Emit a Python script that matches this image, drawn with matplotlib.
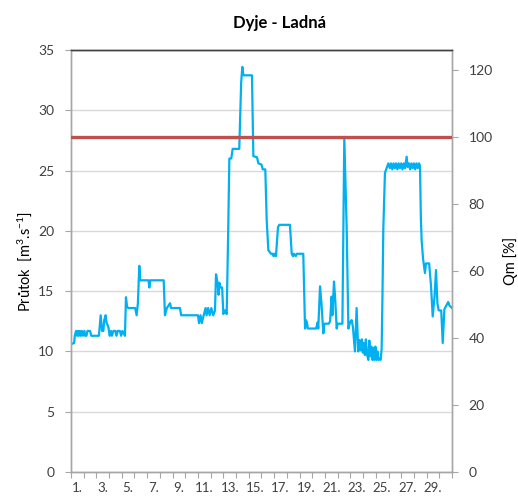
import matplotlib
matplotlib.use("Agg")
import matplotlib.pyplot as plt

plt.rcParams.update({
    "font.family": ["Lato", "DejaVu Sans"],
    "mathtext.default": "regular",
})

# data (day position 0..30, flow in m3/s)
day_pos = [
    0.00, 0.25, 0.30, 0.40, 0.48, 0.55, 0.62, 0.70, 0.78, 0.86, 0.95, 1.05, 1.12, 1.22,
    1.30, 1.50, 1.60, 2.20, 2.34, 2.45, 2.55, 2.62, 2.73, 2.80, 2.95, 3.05, 3.15, 3.22,
    3.35, 3.50, 3.58, 3.68, 3.85, 3.95, 4.05, 4.25, 4.33, 4.42, 4.51, 5.05, 5.17, 5.27,
    5.38, 5.46, 6.10, 6.17, 6.24, 7.30, 7.40, 7.55, 7.80, 7.88, 8.58, 8.68, 10.00, 10.08,
    10.20, 10.30, 10.45, 10.60, 10.68, 10.80, 10.92, 11.05, 11.20, 11.34, 11.42, 11.55,
    11.62, 11.68, 11.78, 11.90, 12.00, 12.13, 12.26, 12.38, 12.47, 12.62, 12.73, 13.25,
    13.40, 13.49, 13.58, 14.25, 14.36, 14.65, 14.75, 15.00, 15.10, 15.30, 15.41, 15.54,
    15.75, 15.90, 15.95, 16.05, 16.14, 16.30, 16.40, 17.24, 17.38, 17.48, 17.55, 17.70,
    17.78, 18.29, 18.43, 18.50, 18.58, 18.65, 19.30, 19.42, 19.47, 19.61, 19.72, 19.87,
    19.95, 20.30, 20.40, 20.52, 20.58, 20.71, 20.80, 20.92, 21.00, 21.37, 21.52, 21.71,
    21.84, 21.97, 22.10, 22.20, 22.36, 22.49, 22.62, 22.70, 22.82, 22.90, 22.98, 23.06,
    23.14, 23.22, 23.30, 23.41, 23.49, 23.57, 23.65, 23.73, 23.81, 23.89, 23.97, 24.05,
    24.13, 24.21, 24.30, 24.38, 24.46, 24.53, 24.59, 24.72, 24.85, 24.99, 25.10, 25.20,
    25.30, 25.40, 25.50, 25.60, 25.70, 25.80, 25.90, 26.00, 26.10, 26.20, 26.30, 26.43,
    26.50, 26.60, 26.70, 26.80, 26.90, 27.00, 27.10, 27.20, 27.30, 27.40, 27.48, 27.55,
    27.61, 27.72, 27.87, 27.95, 28.20, 28.35, 28.48, 28.62, 28.74, 28.85, 28.95, 29.15,
    29.27, 29.40, 29.58, 29.70, 29.80, 30.00,
]
flow = [
    10.6, 10.7, 11.3, 11.7, 11.3, 11.7, 11.3, 11.7, 11.3, 11.7, 11.3, 11.7, 11.3, 11.3,
    11.7, 11.7, 11.3, 11.3, 13.0, 11.7, 11.7, 12.6, 13.0, 12.4, 12.0, 11.3, 11.7, 11.3,
    11.7, 11.7, 11.3, 11.7, 11.7, 11.3, 11.7, 11.3, 14.5, 13.7, 13.6, 13.6, 13.0, 14.0,
    17.1, 15.9, 15.9, 15.3, 15.9, 15.9, 13.0, 13.6, 14.0, 13.6, 13.6, 13.0, 13.0, 12.35,
    13.0, 12.35, 13.0, 13.6, 13.0, 13.6, 13.0, 13.6, 13.0, 13.4, 16.4, 15.65,
    14.7, 15.7, 15.3, 15.3, 13.1, 13.4, 13.1, 20.0, 26.0, 26.0, 26.8, 26.8,
    32.3, 33.6, 32.9, 32.9, 26.2, 26.1, 25.6, 25.5, 25.1, 25.1, 20.9, 18.4,
    18.1, 18.1, 17.9, 18.1, 17.9, 20.3, 20.5, 20.5, 18.1, 17.9, 18.1, 17.9,
    18.1, 18.1, 11.9, 12.6, 12.4, 11.9, 11.9, 12.4, 11.9, 15.4, 14.0, 11.5,
    12.3, 12.3, 12.5, 14.55, 13.0, 15.8, 14.4, 11.9, 12.3, 12.3, 27.7, 20.1,
    11.9, 12.4, 12.6, 12.0, 10.0, 13.6, 10.0, 10.95, 10.1, 11.0, 9.9, 10.7,
    9.7, 11.0, 9.8, 9.3, 10.9, 9.6, 10.4, 9.3, 10.3, 9.3, 10.4, 9.3,
    10.0, 9.3, 9.4, 9.3, 10.2, 15.0, 20.1, 24.8, 25.2, 25.6, 25.2, 25.6,
    25.1, 25.6, 25.2, 25.6, 25.1, 25.6, 25.2, 25.6, 25.1, 25.6, 25.2, 26.15,
    25.3, 25.6, 25.1, 25.6, 25.2, 25.6, 25.1, 25.6, 25.2, 25.6, 25.4, 21.0,
    19.2, 17.7, 16.5, 17.3, 17.3, 15.4, 12.9, 14.5, 16.75, 14.0, 13.4, 13.4,
    10.7, 13.5, 13.85, 14.1, 13.8, 13.6,
]
qm = 27.8  # long-term mean flow = 100 %
day_labels = ["1.", "3.", "5.", "7.", "9.", "11.", "13.", "15.", "17.", "19.",
              "21.", "23.", "25.", "27.", "29."]
day_numbers = [1, 3, 5, 7, 9, 11, 13, 15, 17, 19, 21, 23, 25, 27, 29]

BLUE = "#00B0F0"
RED = "#C0504D"
GRID = "#D9D9D9"
SPINE = "#A6A6A6"
TEXT = "#404040"

fig = plt.figure(figsize=(5.18, 5.03), dpi=100)
ax = fig.add_axes([0.137, 0.0616, 0.7356, 0.839])
ax2 = ax.twinx()

ax.plot(day_pos, flow, color=BLUE, lw=1.6, zorder=3)
ax2.axhline(100, color=RED, lw=2.4, zorder=4)

ax.set_xlim(0, 30)
ax.set_ylim(0, 35)
ax2.set_ylim(0, 35 / qm * 100)

ax.set_yticks(range(0, 36, 5))
ax2.set_yticks(range(0, 121, 20))
ax.set_xticks(range(0, 31))
ax.set_xticklabels([])
ax.set_xticks([d - 0.5 for d in day_numbers], minor=True)
ax.set_xticklabels(day_labels, minor=True)

ax.yaxis.grid(True, color=GRID, lw=1)
ax.set_axisbelow(True)

ax.tick_params(axis="x", which="major", length=4, color=SPINE, direction="out")
ax.tick_params(axis="x", which="minor", length=0, labelsize=9.5, colors=TEXT, pad=7)
ax.tick_params(axis="y", length=4, color=SPINE, labelsize=10, labelcolor=TEXT, pad=8)
ax2.tick_params(axis="y", length=4, color=SPINE, labelsize=10, labelcolor=TEXT, pad=8)

for a in (ax, ax2):
    for side in ("left", "right", "bottom"):
        a.spines[side].set_color(SPINE)
        a.spines[side].set_linewidth(1)
    a.spines["top"].set_color("#404040")
    a.spines["top"].set_linewidth(1)

ax.set_ylabel(r"Průtok  [m$^{3}$.s$^{-1}$]", fontsize=10.5, color="black", labelpad=3)
ax2.set_ylabel("Qm [%]", fontsize=10.5, color="black", labelpad=7)

fig.text(0.54, 0.955, "Dyje - Ladná", ha="center", va="center",
         fontsize=12, fontweight="bold", color="black")

fig.savefig("out.png", dpi=100, facecolor="white")
